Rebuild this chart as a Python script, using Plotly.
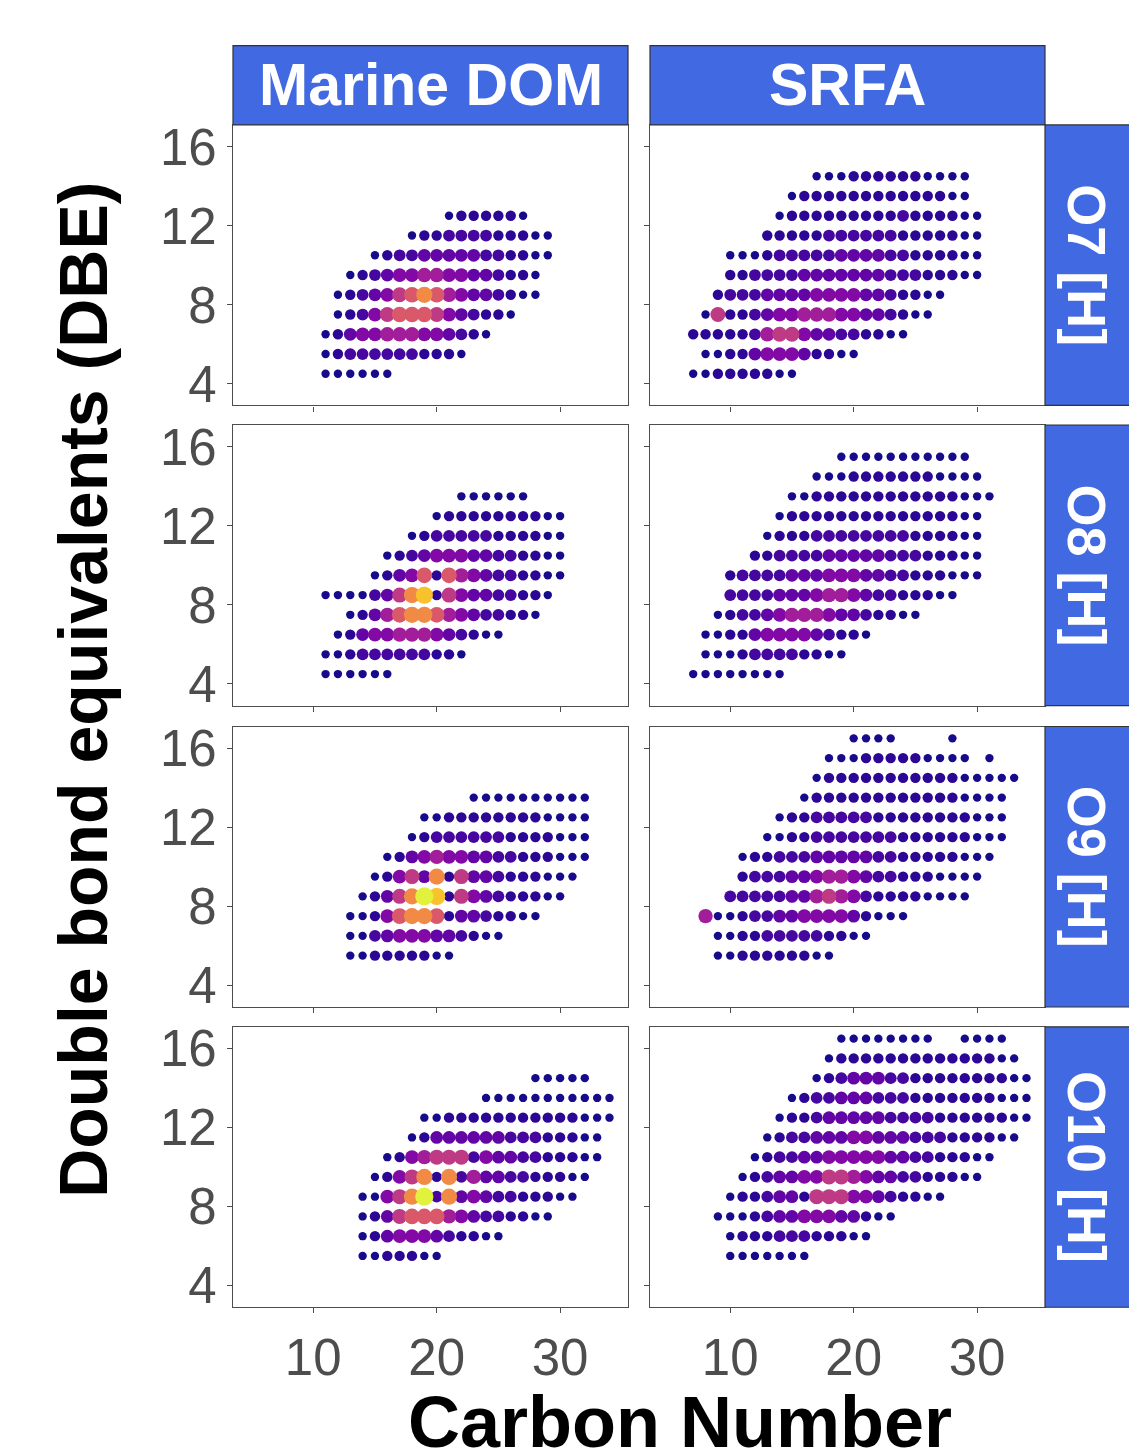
import plotly.graph_objects as go

W, H = 1129, 1455

SAMPLES = ["Marine DOM", "SRFA"]
CLASSES = ["O7 [H]", "O8 [H]", "O9 [H]", "O10 [H]"]
X_TICKS = [10, 20, 30]
Y_TICKS = [4, 8, 12, 16]
X_TITLE = "Carbon Number"
Y_TITLE = "Double bond equivalents (DBE)"

# Each row of points: DBE value, first carbon number, and relative intensity
# level per consecutive carbon (0 = lowest ... A = highest, "." = no formula)

# ---- Marine DOM, O7 [H]
MDOM_O7_DBE = [4.5, 5.5, 6.5, 7.5, 8.5, 9.5, 10.5, 11.5, 12.5]
MDOM_O7_C0 = [11, 11, 11, 12, 12, 13, 15, 18, 21]
MDOM_O7_LEVEL = ["000000", "012222221110", "01344555443210", "012467776432110",
                 "01234678754332100", "0123445544332110", "012233333221100",
                 "011222211100", "0111110"]

# ---- SRFA, O7 [H]
SRFA_O7_DBE = [4.5, 5.5, 6.5, 7.5, 8.5, 9.5, 10.5, 11.5, 12.5, 13.5, 14.5]
SRFA_O7_C0 = [7, 8, 7, 8, 9, 10, 10, 13, 14, 15, 17]
SRFA_O7_LEVEL = ["001111100", "0011344431100", "111112566433221100",
                 "0611234455544332100", "1222333344443321100",
                 "112222333333322211100", "000122222333322111100",
                 "111112222221111100", "01111111112111100",
                 "011111111111100", "0001111110000"]

# ---- Marine DOM, O8 [H]
MDOM_O8_DBE = [4.5, 5.5, 6.5, 7.5, 8.5, 9.5, 10.5, 11.5, 12.5, 13.5]
MDOM_O8_C0 = [11, 11, 12, 13, 11, 15, 16, 18, 20, 22]
MDOM_O8_LEVEL = ["000000", "001222222110", "01344555432100", "0135788754322110",
                 "0000236891643322110", "0134717543221100", "012344433221100",
                 "0122222111100", "01111111100", "000000"]

# ---- SRFA, O8 [H]
SRFA_O8_DBE = [4.5, 5.5, 6.5, 7.5, 8.5, 9.5, 10.5, 11.5, 12.5, 13.5, 14.5, 15.5]
SRFA_O8_C0 = [7, 8, 8, 9, 10, 10, 12, 13, 14, 15, 17, 19]
SRFA_O8_LEVEL = ["00000000", "000122221100", "00113444432110",
                 "01223455543321100", "2222333455432211100",
                 "122223334443322111000", "1122223333322211100",
                 "011122222222111100", "01111111111111100",
                 "00111111111111000", "00011111110000", "00000000000"]

# ---- Marine DOM, O9 [H]
MDOM_O9_DBE = [5.5, 6.5, 7.5, 8.5, 9.5, 10.5, 11.5, 12.5, 13.5]
MDOM_O9_C0 = [13, 13, 13, 14, 15, 16, 18, 19, 23]
MDOM_O9_LEVEL = ["001111100", "0023444332100", "0014788713321100",
                 "01368A91643211100", "01463816332111000",
                 "01345443322111000", "012222221111000",
                 "00111111110000", "0000000000"]

# ---- SRFA, O9 [H]
SRFA_O9_DBE = [5.5, 6.5, 7.5, 8.5, 9.5, 10.5, 11.5, 12.5, 13.5, 14.5, 15.5, 16.5]
SRFA_O9_C0 = [9, 9, 8, 10, 11, 11, 13, 14, 16, 17, 18, 20]
SRFA_O9_LEVEL = ["0011111100", "0011222221100", "50012233444431000",
                 "22222335654211110000", "12223345543221110000",
                 "011222333332211111000", "00112222222111111000",
                 "0112222211111111000", "01111111111110000",
                 "01111111111100000", "000111110000.0", "0000....0"]

# ---- Marine DOM, O10 [H]
MDOM_O10_DBE = [5.5, 6.5, 7.5, 8.5, 9.5, 10.5, 11.5, 12.5, 13.5, 14.5]
MDOM_O10_C0 = [14, 14, 14, 14, 15, 16, 18, 19, 24, 28]
MDOM_O10_LEVEL = ["0011100", "013444321100", "0136777543221100",
                  "00468A283432211100", "014681825332211100",
                  "014566624332211100", "0133333322211100",
                  "0011111111111000", "00000000000", "00000"]

# ---- SRFA, O10 [H]
SRFA_O10_DBE = [5.5, 6.5, 7.5, 8.5, 9.5, 10.5, 11.5, 12.5, 13.5, 14.5, 15.5, 16.5]
SRFA_O10_C0 = [10, 10, 9, 10, 11, 12, 13, 14, 15, 17, 18, 19]
SRFA_O10_LEVEL = ["0000000", "011122211100", "000123344433100",
                  "011233166644321100", "01233446654332211100",
                  "01223344444332211100", "012233344333222111100",
                  "011233333222211111100", "01223332221111111000",
                  "012333221111111100", "0111111111111100", "00000000..0000"]

PANELS = [
    (0, 0, MDOM_O7_DBE, MDOM_O7_C0, MDOM_O7_LEVEL),
    (0, 1, SRFA_O7_DBE, SRFA_O7_C0, SRFA_O7_LEVEL),
    (1, 0, MDOM_O8_DBE, MDOM_O8_C0, MDOM_O8_LEVEL),
    (1, 1, SRFA_O8_DBE, SRFA_O8_C0, SRFA_O8_LEVEL),
    (2, 0, MDOM_O9_DBE, MDOM_O9_C0, MDOM_O9_LEVEL),
    (2, 1, SRFA_O9_DBE, SRFA_O9_C0, SRFA_O9_LEVEL),
    (3, 0, MDOM_O10_DBE, MDOM_O10_C0, MDOM_O10_LEVEL),
    (3, 1, SRFA_O10_DBE, SRFA_O10_C0, SRFA_O10_LEVEL),
]

# ---- styling
LEVEL_COLORS = ["#170b8c", "#2c0796", "#4606a0", "#6204a6", "#8209a5", "#a11d9a",
                "#bf3a84", "#d9596b", "#f08a45", "#f7c22c", "#e2f23c"]
LEVEL_SIZES = [8.4, 10.4, 11.8, 12.8, 13.8, 14.4, 15.0, 15.6, 16.2, 17.2, 18.2]
STRIP_FILL = "#4169E1"
FONT = "Liberation Sans, Arial, Helvetica, sans-serif"

COLS_PX = [(233, 628), (650, 1045)]
ROWS_PX = [(120, 403), (423, 706), (727, 1010), (1030, 1313)]
X_RANGE = [3.5, 35.5]
Y_RANGE = [2.9, 17.1]


def px_x(p):
    return p / W


def px_y(p):
    return 1 - p / H


fig = go.Figure()
layout = dict(
    width=W, height=H, margin=dict(l=0, r=0, t=0, b=0),
    paper_bgcolor="white", plot_bgcolor="white", showlegend=False,
    font=dict(family=FONT),
)
shapes, annotations = [], []

for k, (r, c, dbe, c0, lev) in enumerate(PANELS):
    s = "" if k == 0 else str(k + 1)
    xs, ys, ls = [], [], []
    for d, start, row in zip(dbe, c0, lev):
        for j, ch in enumerate(row):
            if ch == ".":
                continue
            xs.append(start + j)
            ys.append(d)
            ls.append(int(ch, 16))
    order = sorted(range(len(xs)), key=lambda i: ls[i])
    xs = [xs[i] for i in order]
    ys = [ys[i] for i in order]
    ls = [ls[i] for i in order]
    fig.add_trace(go.Scatter(
        x=xs, y=ys, mode="markers", xaxis="x" + s, yaxis="y" + s,
        marker=dict(color=[LEVEL_COLORS[v] for v in ls],
                    size=[LEVEL_SIZES[v] for v in ls], line=dict(width=0),
                    opacity=1),
        hoverinfo="x+y", showlegend=False,
    ))
    x0, x1 = COLS_PX[c]
    y0, y1 = ROWS_PX[r]
    axis_common = dict(showline=True, mirror=True, linecolor="#4d4d4d", linewidth=1.3,
                       ticks="outside", ticklen=5, tickwidth=1.3, tickcolor="#4d4d4d",
                       showgrid=False, zeroline=False, fixedrange=True,
                       tickfont=dict(size=51, color="#4d4d4d", family=FONT))
    layout["xaxis" + s] = dict(axis_common, domain=[px_x(x0), px_x(x1)], anchor="y" + s,
                               range=X_RANGE, tickvals=X_TICKS,
                               showticklabels=(r == 3))
    layout["yaxis" + s] = dict(axis_common, domain=[px_y(y1), px_y(y0)], anchor="x" + s,
                               range=Y_RANGE, tickvals=Y_TICKS,
                               showticklabels=(c == 0))

# top strips
for c, (x0, x1) in enumerate(COLS_PX):
    shapes.append(dict(type="rect", xref="paper", yref="paper",
                       x0=px_x(x0), x1=px_x(x1), y0=px_y(120), y1=px_y(40),
                       fillcolor=STRIP_FILL, line=dict(color="#333333", width=1.2),
                       layer="above"))
    annotations.append(dict(xref="paper", yref="paper", x=px_x((x0 + x1) / 2),
                            y=px_y(80), text="<b>%s</b>" % SAMPLES[c], showarrow=False,
                            xanchor="center", yanchor="middle",
                            font=dict(size=59, color="white", family=FONT)))

# right strips
for r, (y0, y1) in enumerate(ROWS_PX):
    shapes.append(dict(type="rect", xref="paper", yref="paper",
                       x0=px_x(1045), x1=px_x(1140), y0=px_y(y1), y1=px_y(y0),
                       fillcolor=STRIP_FILL, line=dict(color="#333333", width=1.2),
                       layer="above"))
    annotations.append(dict(xref="paper", yref="paper", x=px_x(1087),
                            y=px_y((y0 + y1) / 2), text="<b>%s</b>" % CLASSES[r],
                            showarrow=False, textangle=90, xanchor="center",
                            yanchor="middle",
                            font=dict(size=54, color="white", family=FONT)))

# axis titles
annotations.append(dict(xref="paper", yref="paper", x=px_x(83), y=px_y(690),
                        text="<b>%s</b>" % Y_TITLE, showarrow=False, textangle=-90,
                        xanchor="center", yanchor="middle",
                        font=dict(size=68, color="black", family=FONT)))
annotations.append(dict(xref="paper", yref="paper", x=px_x(680), y=px_y(1386),
                        text="<b>%s</b>" % X_TITLE, showarrow=False,
                        xanchor="center", yanchor="top",
                        font=dict(size=72, color="black", family=FONT)))

layout["shapes"] = shapes
layout["annotations"] = annotations
fig.update_layout(**layout)
fig.write_html("out.html")
